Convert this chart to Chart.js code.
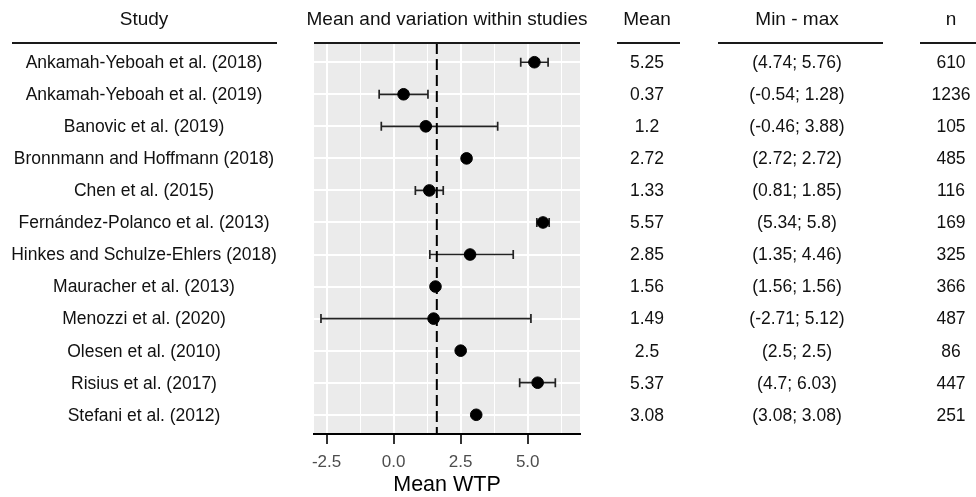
<!DOCTYPE html>
<html lang="en">
<head>
<meta charset="UTF-8">
<title>Mean WTP by study</title>
<style>
  body { margin: 0; background: #fff; }
  canvas { display: block; }
</style>
</head>
<body>
<canvas id="forest" width="976" height="497"></canvas>

<script src="https://cdn.jsdelivr.net/npm/chart.js"></script>
<script>
// one row per study, top to bottom
const studies = [
  'Ankamah-Yeboah et al. (2018)',
  'Ankamah-Yeboah et al. (2019)',
  'Banovic et al. (2019)',
  'Bronnmann and Hoffmann (2018)',
  'Chen et al. (2015)',
  'Fernández-Polanco et al. (2013)',
  'Hinkes and Schulze-Ehlers (2018)',
  'Mauracher et al. (2013)',
  'Menozzi et al. (2020)',
  'Olesen et al. (2010)',
  'Risius et al. (2017)',
  'Stefani et al. (2012)'
];
const means = [5.25, 0.37, 1.2, 2.72, 1.33, 5.57, 2.85, 1.56, 1.49, 2.5, 5.37, 3.08];
const mins  = [4.74, -0.54, -0.46, 2.72, 0.81, 5.34, 1.35, 1.56, -2.71, 2.5, 4.7, 3.08];
const maxs  = [5.76, 1.28, 3.88, 2.72, 1.85, 5.8, 4.46, 1.56, 5.12, 2.5, 6.03, 3.08];
const ns    = [610, 1236, 105, 485, 116, 169, 325, 366, 487, 86, 447, 251];

const refLine = 1.61;             // dashed reference
const xTicks = [-2.5, 0, 2.5, 5]; // labelled
const xMinorTicks = [-1.25, 1.25, 3.75, 6.25];
const xTickLabels = ['-2.5', '0.0', '2.5', '5.0'];
const xTitle = 'Mean WTP';

const FONT = '"Liberation Sans", Arial, Helvetica, sans-serif';

// table columns around the plot
const columns = [
  { head: 'Study', cx: 144, x0: 12, x1: 277, cell: i => studies[i] },
  { head: 'Mean and variation within studies', cx: 447, x0: 314, x1: 580, cell: null },
  { head: 'Mean', cx: 647, x0: 617, x1: 680, cell: i => String(means[i]) },
  { head: 'Min - max', cx: 797, x0: 718, x1: 883, cell: i => '(' + mins[i] + '; ' + maxs[i] + ')' },
  { head: 'n', cx: 951, x0: 920, x1: 976, cell: i => String(ns[i]) }
];

const panelBg = {
  id: 'panelBg',
  beforeDraw(chart) {
    const a = chart.chartArea, c = chart.ctx;
    c.save();
    c.fillStyle = '#EBEBEB';
    c.fillRect(a.left, a.top, a.right - a.left, a.bottom - a.top);
    c.restore();
  }
};

const errorBars = {
  id: 'errorBars',
  beforeDatasetsDraw(chart) {
    const x = chart.scales.x, y = chart.scales.y, c = chart.ctx;
    c.save();
    c.strokeStyle = '#222';
    c.lineWidth = 1.7;
    const cap = 4.5;
    for (let i = 0; i < means.length; i++) {
      const py = y.getPixelForValue(i);
      const a = x.getPixelForValue(mins[i]);
      const b = x.getPixelForValue(maxs[i]);
      c.beginPath();
      c.moveTo(a, py); c.lineTo(b, py);
      c.moveTo(a, py - cap); c.lineTo(a, py + cap);
      c.moveTo(b, py - cap); c.lineTo(b, py + cap);
      c.stroke();
    }
    c.restore();
  }
};

const table = {
  id: 'table',
  afterDraw(chart) {
    const y = chart.scales.y, c = chart.ctx, top = chart.chartArea.top;
    c.save();
    c.textAlign = 'center';
    c.textBaseline = 'middle';
    columns.forEach(col => {
      c.fillStyle = '#111';
      c.font = '19px ' + FONT;
      c.fillText(col.head, col.cx, 20);
      c.strokeStyle = '#1a1a1a';
      c.lineWidth = 2;
      c.beginPath();
      c.moveTo(col.x0, top);
      c.lineTo(col.x1, top);
      c.stroke();
      if (!col.cell) return;
      c.font = '17.5px ' + FONT;
      for (let i = 0; i < studies.length; i++) {
        c.fillText(col.cell(i), col.cx, y.getPixelForValue(i) + 1);
      }
    });
    c.restore();
  }
};

const isMajor = v => xTicks.indexOf(v) !== -1;

new Chart(document.getElementById('forest'), {
  type: 'scatter',
  data: {
    datasets: [
      {
        data: means.map((m, i) => ({ x: m, y: i })),
        backgroundColor: '#000',
        borderColor: '#000',
        pointRadius: 5.8,
        pointHoverRadius: 5.8,
        order: 1
      },
      {
        data: [{ x: refLine, y: -0.6 }, { x: refLine, y: 11.6 }],
        showLine: true,
        borderColor: '#000',
        borderWidth: 2,
        borderDash: [11, 5],
        pointRadius: 0,
        order: 2
      }
    ]
  },
  options: {
    responsive: false,
    animation: false,
    devicePixelRatio: 1,
    layout: { padding: { left: 314, right: 396, top: 43, bottom: 0 } },
    plugins: { legend: { display: false }, tooltip: { enabled: false } },
    scales: {
      x: {
        type: 'linear',
        min: -2.97,
        max: 6.95,
        afterBuildTicks: s => {
          s.ticks = xTicks.concat(xMinorTicks).sort((a, b) => a - b).map(v => ({ value: v }));
        },
        afterFit: s => { s.height = 63; },
        grid: {
          color: '#fff',
          lineWidth: ctx => (ctx.tick && isMajor(ctx.tick.value)) ? 2 : 1,
          tickColor: ctx => (ctx.tick && isMajor(ctx.tick.value)) ? '#333' : 'rgba(0,0,0,0)',
          tickWidth: 2,
          tickLength: 10
        },
        border: { display: true, color: '#000', width: 2 },
        ticks: {
          autoSkip: false,
          maxRotation: 0,
          padding: 8,
          color: '#4D4D4D',
          font: { family: FONT, size: 17 },
          callback: v => isMajor(v) ? xTickLabels[xTicks.indexOf(v)] : ''
        },
        title: {
          display: true,
          text: xTitle,
          color: '#000',
          font: { family: FONT, size: 21.5, lineHeight: 1.1 },
          padding: { top: 0, bottom: 0 }
        }
      },
      y: {
        type: 'linear',
        reverse: true,
        min: -0.6,
        max: 11.6,
        afterBuildTicks: s => {
          s.ticks = studies.map((_, i) => ({ value: i }));
        },
        afterFit: s => { s.width = 0; },
        grid: { color: '#fff', lineWidth: 2, drawTicks: false },
        border: { display: false },
        ticks: { display: false }
      }
    }
  },
  plugins: [panelBg, errorBars, table]
});
</script>
</body>
</html>
